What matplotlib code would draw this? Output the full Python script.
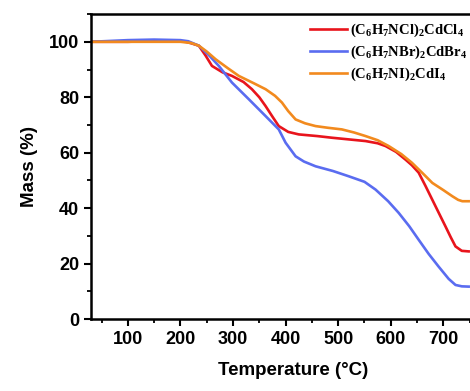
import matplotlib
matplotlib.use("Agg")
import matplotlib.pyplot as plt
from matplotlib.ticker import MultipleLocator

plt.rcParams['font.family'] = ['Liberation Sans', 'DejaVu Sans']
plt.rcParams['font.weight'] = 'bold'
plt.rcParams['mathtext.fontset'] = 'custom'
plt.rcParams['mathtext.rm'] = 'Liberation Serif:bold'
plt.rcParams['mathtext.bf'] = 'Liberation Serif:bold'

# TGA curves (temperature in C, mass in %)
t_cl = [30, 100, 150, 180, 210, 220, 235, 248, 260, 280, 298, 320, 336, 350, 362, 375, 387, 405, 425, 460, 488, 520, 552, 575, 590, 610, 628, 640, 653, 666, 679, 692, 704, 714, 723, 735, 748]
m_cl = [100, 100, 100.3, 100.3, 100, 99.5, 98.6, 95, 91.3, 89, 87.7, 85.5, 82.9, 80, 76.8, 73, 69.6, 67.5, 66.6, 66, 65.4, 64.8, 64.2, 63.4, 62.4, 60.3, 57.5, 55.5, 52.8, 48, 43, 38, 33.4, 29.5, 26.2, 24.6, 24.4]

t_br = [30, 100, 150, 200, 215, 235, 255, 273, 298, 330, 362, 387, 400, 419, 435, 457, 490, 520, 550, 571, 595, 615, 635, 653, 672, 691, 710, 723, 735, 748]
m_br = [100, 100.6, 100.8, 100.6, 100.2, 98.6, 95, 91.3, 85.3, 79.3, 73.2, 68.4, 63.6, 58.7, 56.8, 55.1, 53.4, 51.5, 49.5, 46.7, 42.5, 38.3, 33.5, 28.6, 23.5, 18.9, 14.5, 12.3, 11.8, 11.7]

t_i = [30, 100, 200, 220, 235, 250, 267, 290, 311, 340, 362, 380, 393, 405, 419, 437, 457, 480, 507, 530, 552, 575, 596, 620, 640, 660, 679, 700, 717, 728, 736, 748]
m_i = [100, 100, 100, 99.6, 98.6, 96.5, 93.7, 90.5, 87.7, 85, 82.9, 80.5, 78.1, 75, 72, 70.6, 69.6, 69, 68.4, 67.3, 66, 64.5, 62.4, 59.5, 56.4, 52.7, 49.1, 46.5, 44.3, 43, 42.5, 42.5]

labels = [r'$\mathbf{(C_6H_7NCl)_2CdCl_4}$',
          r'$\mathbf{(C_6H_7NBr)_2CdBr_4}$',
          r'$\mathbf{(C_6H_7NI)_2CdI_4}$']

fig = plt.figure(figsize=(4.70, 3.91), dpi=100)
ax = fig.add_axes([0.1936, 0.184, 0.8617, 0.780])

ax.plot(t_cl, m_cl, color='#e8141c', lw=1.9, label=labels[0])
ax.plot(t_br, m_br, color='#5a6cf0', lw=1.9, label=labels[1])
ax.plot(t_i, m_i, color='#f28a1e', lw=1.9, label=labels[2])

ax.set_xlim(30, 800)
ax.set_ylim(0, 110)
ax.xaxis.set_major_locator(MultipleLocator(100))
ax.xaxis.set_minor_locator(MultipleLocator(50))
ax.yaxis.set_major_locator(MultipleLocator(20))
ax.yaxis.set_minor_locator(MultipleLocator(10))
ax.set_xticks([100, 200, 300, 400, 500, 600, 700])
ax.tick_params(which='major', direction='out', length=5, width=1.5, labelsize=13)
ax.tick_params(which='minor', direction='out', length=3, width=1.3)
for s in ax.spines.values():
    s.set_linewidth(1.8)

ax.set_xlabel('Temperature (°C)', fontsize=13.5, fontweight='bold', labelpad=10)
ax.set_ylabel('Mass (%)', fontsize=13.5, fontweight='bold', labelpad=8)

leg = ax.legend(loc='upper left', bbox_to_anchor=(0.648, 0.96), bbox_transform=fig.transFigure,
                frameon=False, fontsize=10.5, handlelength=2.5, handletextpad=0.25,
                labelspacing=0.33, borderaxespad=0)

fig.savefig('out.png', dpi=100)
